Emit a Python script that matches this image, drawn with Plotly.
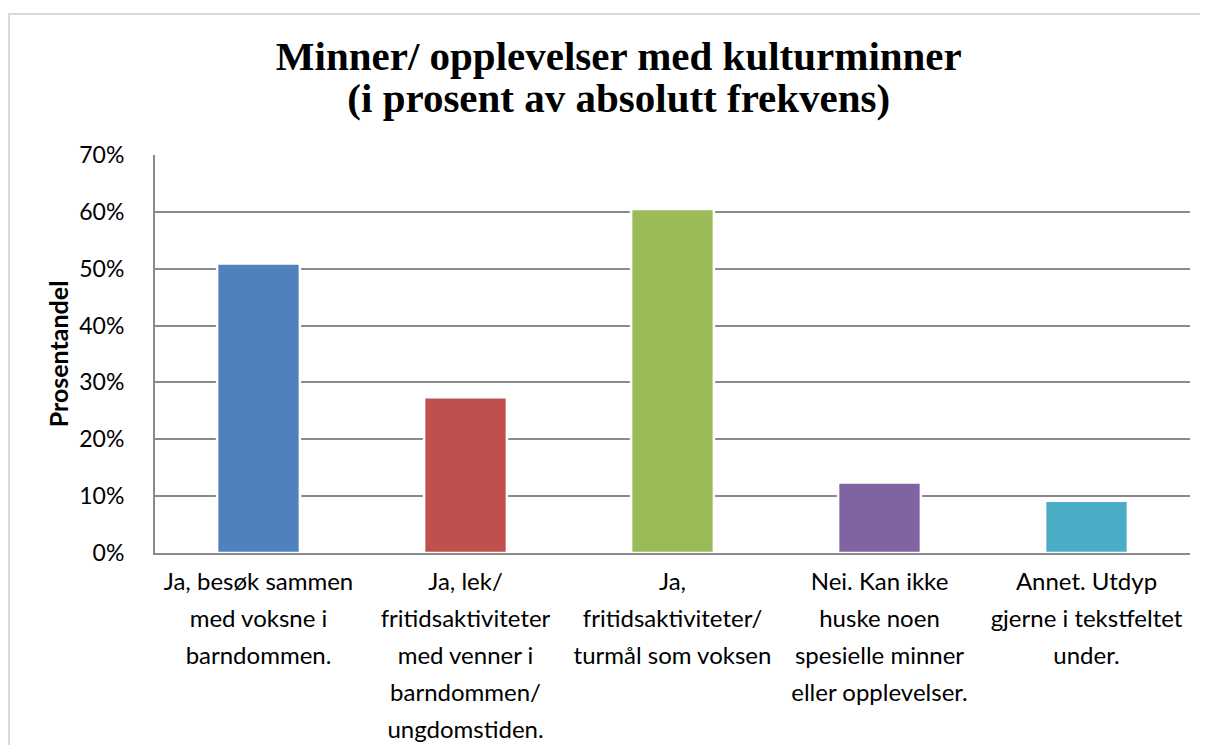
import plotly.graph_objects as go

categories = [
    "Ja, besøk sammen<br>med voksne i<br>barndommen.",
    "Ja, lek/<br>fritidsaktiviteter<br>med venner i<br>barndommen/<br>ungdomstiden.",
    "Ja,<br>fritidsaktiviteter/<br>turmål som voksen",
    "Nei. Kan ikke<br>huske noen<br>spesielle minner<br>eller opplevelser.",
    "Annet. Utdyp<br>gjerne i tekstfeltet<br>under.",
]
values = [0.509, 0.274, 0.605, 0.124, 0.092]
colors = ["#4F81BD", "#C0504D", "#9BBB59", "#8064A2", "#4BACC6"]
tick_vals = [0, 0.1, 0.2, 0.3, 0.4, 0.5, 0.6, 0.7]
tick_text = ["0%", "10%", "20%", "30%", "40%", "50%", "60%", "70%"]

LBL = 24
ticktext_x = ["<br>".join(f"<span style='font-size:{LBL}px'>{ln}</span>" for ln in c.split("<br>")) for c in categories]

fig = go.Figure()
fig.add_trace(go.Bar(
    x=list(range(len(categories))),
    y=values,
    marker=dict(color=colors, line=dict(color="white", width=2.5)),
    showlegend=False,
    hoverinfo="skip",
))

title_lines = ["Minner/ opplevelser med kulturminner", "(i prosent av absolutt frekvens)"]
title_text = "<br>".join(f"<span style='font-size:41px'>{t}</span>" for t in title_lines)

fig.update_layout(
    width=1200, height=737,
    margin=dict(l=147, r=18, t=147, b=192, autoexpand=False),
    paper_bgcolor="white", plot_bgcolor="white",
    bargap=0.60,
    title=dict(
        text=title_text,
        font=dict(family="Liberation Serif", size=32, color="black", weight="bold"),
        x=0.509, xref="container", xanchor="center",
        y=0.916, yref="container", yanchor="top",
    ),
    font=dict(family="Lato", color="black"),
    xaxis=dict(
        tickmode="array",
        tickvals=list(range(len(categories))),
        ticktext=ticktext_x,
        tickfont=dict(family="Lato", size=28.5, color="black"),
        range=[-0.5, 4.5],
        showline=True, linecolor="#8a8a8a", linewidth=2,
        showgrid=False, ticks="", zeroline=False,
        ticklabelstandoff=1, automargin=False,
    ),
    yaxis=dict(
        range=[0, 0.7],
        tickmode="array", tickvals=tick_vals, ticktext=tick_text,
        tickfont=dict(family="Lato", size=23, color="black"),
        showline=True, linecolor="#8a8a8a", linewidth=2,
        showgrid=True, gridcolor="#8a8a8a", gridwidth=2,
        zeroline=False, ticks="", ticklabelstandoff=24, automargin=False,
        title=dict(text="<b>Prosentandel</b>", font=dict(family="Lato", size=25, color="black"), standoff=4),
    ),
    shapes=[dict(
        type="rect", xref="paper", yref="paper",
        x0=-0.1411, x1=1.2, y0=-0.7, y1=1.354,
        line=dict(color="#d9d9d9", width=2), fillcolor="rgba(0,0,0,0)", layer="below",
    )],
)

fig.write_html("out.html")
